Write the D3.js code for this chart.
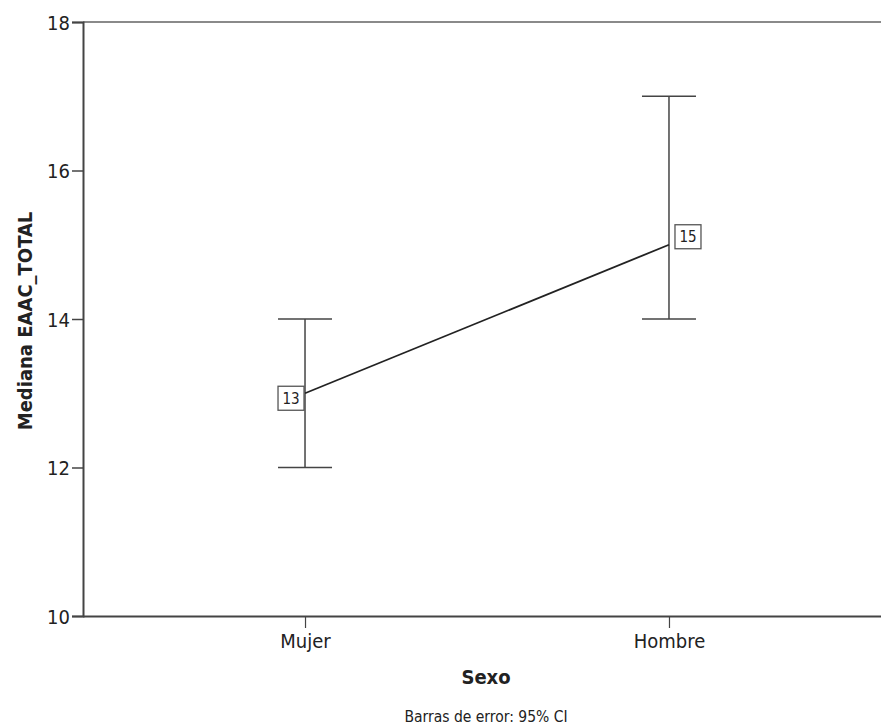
<!DOCTYPE html>
<html>
<head>
<meta charset="utf-8">
<script src="https://cdn.jsdelivr.net/npm/d3@7"></script>
<style>
  body { margin: 0; background: #fff; }
  text { font-family: "DejaVu Sans Condensed", "DejaVu Sans", sans-serif; fill: #222; }
</style>
</head>
<body>
<script>
const categories = ["Mujer", "Hombre"];
const medians = [13, 15];
const ciLow = [12, 14];
const ciHigh = [14, 17];
const yTicks = [10, 12, 14, 16, 18];

const w = 881;
const h = 727;
const plotLeft = 83, plotRight = 891, plotTop = 22, plotBottom = 616;

const xScale = d3.scalePoint().domain(categories).range([plotLeft, plotRight]).padding(0.61);
const yScale = d3.scaleLinear().domain([10, 18]).range([plotBottom, plotTop]);

const svg = d3.select("body").append("svg").attr("width", w).attr("height", h);

// frame top line
svg.append("line")
  .attr("x1", plotLeft).attr("x2", w).attr("y1", plotTop).attr("y2", plotTop)
  .attr("stroke", "#8a8a8a").attr("stroke-width", 2);

const yAxis = d3.axisLeft(yScale).tickValues(yTicks).tickSize(11).tickFormat(d3.format("d"));
const gy = svg.append("g").attr("transform", `translate(${plotLeft},0)`).call(yAxis);
gy.select(".domain").attr("stroke", "#444").attr("stroke-width", 2);
gy.selectAll(".tick line").attr("stroke", "#444").attr("stroke-width", 1.5);
gy.selectAll(".tick text").attr("font-size", 20).attr("fill", "#222").attr("x", -13).attr("dy", "0.35em");

const xAxis = d3.axisBottom(xScale).tickSize(12).tickSizeOuter(0);
const gx = svg.append("g").attr("transform", `translate(0,${plotBottom})`).call(xAxis);
gx.select(".domain").attr("d", `M${plotLeft},0.5H${w}`).attr("stroke", "#444").attr("stroke-width", 2);
gx.selectAll(".tick line").attr("stroke", "#444").attr("stroke-width", 1.2);
gx.selectAll(".tick text").attr("font-size", 20).attr("fill", "#222").attr("y", 32).attr("dy", 0);

svg.append("text")
  .attr("x", (plotLeft + w) / 2 + 4).attr("y", 684)
  .attr("text-anchor", "middle").attr("font-size", 20).attr("font-weight", "bold")
  .text("Sexo");

svg.append("text")
  .attr("transform", `translate(32,${(plotTop + plotBottom) / 2 + 2}) rotate(-90)`)
  .attr("text-anchor", "middle").attr("font-size", 20).attr("font-weight", "bold")
  .text("Mediana EAAC_TOTAL");

svg.append("text")
  .attr("x", (plotLeft + w) / 2 + 4).attr("y", 722)
  .attr("text-anchor", "middle").attr("font-size", 15.5)
  .text("Barras de error: 95% CI");

const data = categories.map((c, i) => ({ c, m: medians[i], lo: ciLow[i], hi: ciHigh[i] }));
const cap = 27;

const eb = svg.append("g").selectAll("g").data(data).enter().append("g");
eb.append("line")
  .attr("x1", d => xScale(d.c)).attr("x2", d => xScale(d.c))
  .attr("y1", d => yScale(d.lo)).attr("y2", d => yScale(d.hi))
  .attr("stroke", "#444").attr("stroke-width", 1.5);
eb.append("line")
  .attr("x1", d => xScale(d.c) - cap).attr("x2", d => xScale(d.c) + cap)
  .attr("y1", d => yScale(d.hi)).attr("y2", d => yScale(d.hi))
  .attr("stroke", "#444").attr("stroke-width", 1.5);
eb.append("line")
  .attr("x1", d => xScale(d.c) - cap).attr("x2", d => xScale(d.c) + cap)
  .attr("y1", d => yScale(d.lo)).attr("y2", d => yScale(d.lo))
  .attr("stroke", "#444").attr("stroke-width", 1.5);

svg.append("path")
  .datum(data)
  .attr("fill", "none").attr("stroke", "#222").attr("stroke-width", 1.8)
  .attr("d", d3.line().x(d => xScale(d.c)).y(d => yScale(d.m)));

// value labels (SPSS style boxes)
const offsets = [{ dx: -27, dy: -7 }, { dx: 6, dy: -20 }];
const lab = svg.append("g").selectAll("g").data(data).enter().append("g")
  .attr("transform", (d, i) => `translate(${xScale(d.c) + offsets[i].dx},${yScale(d.m) + offsets[i].dy})`);
lab.append("rect")
  .attr("width", 26).attr("height", 24)
  .attr("fill", "#fff").attr("stroke", "#555").attr("stroke-width", 1.3);
lab.append("text")
  .attr("x", 13).attr("y", 12).attr("dy", "0.35em")
  .attr("text-anchor", "middle").attr("font-size", 15)
  .text(d => d.m);
</script>
</body>
</html>
